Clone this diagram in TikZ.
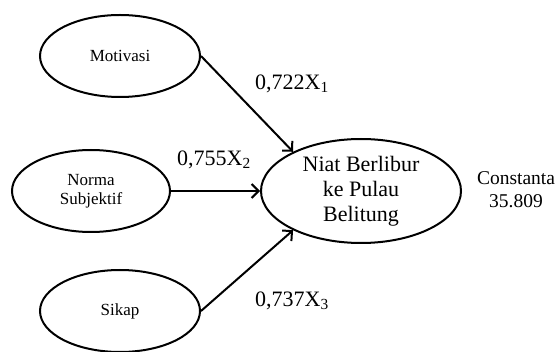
\documentclass[tikz,border=0pt]{standalone}
\usepackage{fontspec}
\setmainfont{Liberation Serif}
\usetikzlibrary{shapes.geometric,arrows.meta}

\begin{document}
\begin{tikzpicture}[x=1pt,y=1pt,yscale=-1,xscale=1,
  varbox/.style={draw,ellipse,line width=2pt,inner sep=0pt,align=center,font=\fontsize{17}{19}\selectfont},
  coef/.style={font=\fontsize{22}{25}\selectfont},
  path/.style={line width=2pt,-{Straight Barb[length=7pt,width=14pt,line width=2pt]}}]
\useasboundingbox (0,0) rectangle (556,352);

%Shape: Ellipse
\node [varbox,minimum width=160,minimum height=82] (mot) at (120,56) {Motivasi};
%Shape: Ellipse
\node [varbox,minimum width=158,minimum height=82] (nor) at (91,191) {Norma\\Subjektif};
%Shape: Ellipse
\node [varbox,minimum width=160,minimum height=82] (sik) at (120,311) {Sikap};
%Shape: Ellipse
\node [varbox,minimum width=200,minimum height=104,font=\fontsize{22}{25}\selectfont] (niat) at (361,191) {Niat Berlibur\\ke Pulau\\Belitung};

%Straight Lines
\draw [path] (mot.east) -- (niat.150);
%Straight Lines
\draw [path] (nor.east) -- (niat.west);
%Straight Lines
\draw [path] (sik.east) -- (niat.210);

% Text Node
\node [coef] (c1) at (292,84) {0,722X\textsubscript{1}};
% Text Node
\node [coef] (c2) at (214,160) {0,755X\textsubscript{2}};
% Text Node
\node [coef] (c3) at (292,301) {0,737X\textsubscript{3}};
% Text Node
\node [align=center,font=\fontsize{19.5}{23}\selectfont] (kon) at (516,190) {Constanta\\35.809};

\end{tikzpicture}
\end{document}
